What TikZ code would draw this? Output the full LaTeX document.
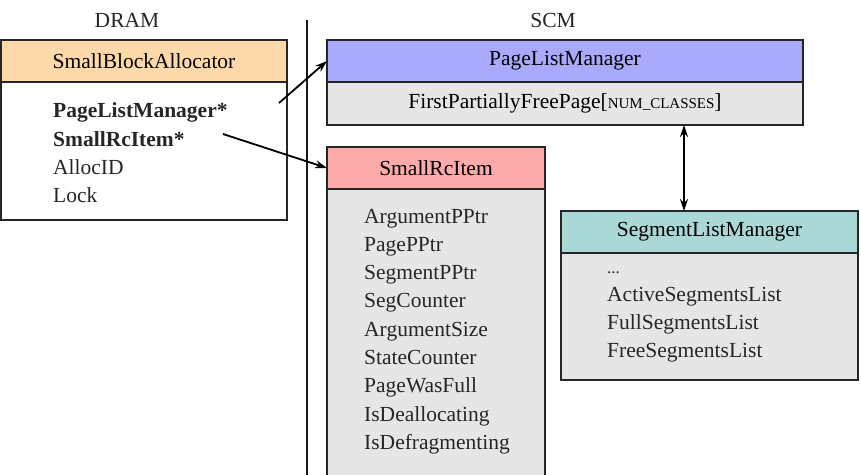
\documentclass[tikz,border=0pt]{standalone}
\usepackage{fontspec}
\setmainfont{Liberation Serif}
\usepackage{xcolor}
\usetikzlibrary{arrows.meta,positioning}

\definecolor{sbaorange}{HTML}{FDD9AA}
\definecolor{plmblue}{HTML}{AAAAFD}
\definecolor{sripink}{HTML}{FDAAAA}
\definecolor{slmteal}{HTML}{AAD8D6}
\definecolor{bodygray}{HTML}{E6E6E6}
\newcommand{\figfont}{\fontsize{21.5}{28}\selectfont}
\newcommand{\smallcapsish}[1]{{\fontsize{15}{15}\selectfont #1}}

\tikzset{
  hdr/.style={draw=black!85, line width=1.8pt, inner sep=0pt, outer sep=0pt, anchor=north west},
  body/.style={draw=black!85, line width=1.8pt, inner sep=0pt, outer sep=0pt},
  fieldtxt/.style={anchor=base west, inner sep=0pt, text=black!85}
}

\begin{document}
\begin{tikzpicture}[x=1pt,y=-1pt,>={Stealth[length=12pt,width=8pt]},font=\figfont]
    \useasboundingbox (0,0) rectangle (861,474);
    \clip (0,0) rectangle (861,474);
    % memory labels and divider
    \node[text=black!85] (dram) at (127,20) {DRAM};
    \node[text=black!85] (scm) at (553,20) {SCM};
    \draw[line width=2pt, black!90] (307,20) -- (307,480);
    % SmallBlockAllocator
    \node[hdr, fill=sbaorange, minimum width=286pt, minimum height=42pt] (sbahead) at (1,40) {SmallBlockAllocator};
    \node[body, fill=white, minimum width=286pt, minimum height=138pt, below=0pt of sbahead] (sbabody) {};
    \node[fieldtxt] (sbaf0) at (53,117) {\bfseries PageListManager*};
    \node[fieldtxt] (sbaf1) at (53,146) {\bfseries SmallRcItem*};
    \node[fieldtxt] (sbaf2) at (53,174) {AllocID};
    \node[fieldtxt] (sbaf3) at (53,202) {Lock};
    % PageListManager
    \node[hdr, fill=plmblue, minimum width=476pt, minimum height=42pt] (plmhead) at (327,40) {PageListManager};
    \node[body, fill=bodygray, minimum width=476pt, minimum height=43pt, below=0pt of plmhead] (plmbody) {FirstPartiallyFreePage[\smallcapsish{NUM\_CLASSES}]};
    % SmallRcItem
    \node[hdr, fill=sripink, minimum width=218pt, minimum height=42pt] (srihead) at (327,147) {SmallRcItem};
    \node[body, fill=bodygray, minimum width=218pt, minimum height=310pt, below=0pt of srihead] (sribody) {};
    \foreach \f [count=\i from 0] in {ArgumentPPtr,PagePPtr,SegmentPPtr,SegCounter,ArgumentSize,StateCounter,PageWasFull,IsDeallocating,IsDefragmenting}
        \node[fieldtxt] (srif\i) at (364,{223+28.3*\i}) {\f};
    % SegmentListManager
    \node[hdr, fill=slmteal, minimum width=297pt, minimum height=42pt] (slmhead) at (561,211) {SegmentListManager};
    \node[body, fill=bodygray, minimum width=297pt, minimum height=127pt, below=0pt of slmhead] (slmbody) {};
    \node[fieldtxt] (slmf0) at (607,273) {\fontsize{17}{17}\selectfont ...};
    \foreach \f [count=\i from 1] in {ActiveSegmentsList,FullSegmentsList,FreeSegmentsList}
        \node[fieldtxt] (slmf\i) at (607,{273+28.3*\i}) {\f};
    % pointers
    \coordinate (plmptr) at (279,103);
    \coordinate (sriptr) at (223,134);
    \draw[->, line width=1.8pt] (plmptr) -- (plmhead.west);
    \draw[->, line width=1.8pt] (sriptr) -- (srihead.west);
    \draw[<->, line width=1.8pt] (plmbody.south -| 684,0) -- (slmhead.north -| 684,0);
\end{tikzpicture}
\end{document}
